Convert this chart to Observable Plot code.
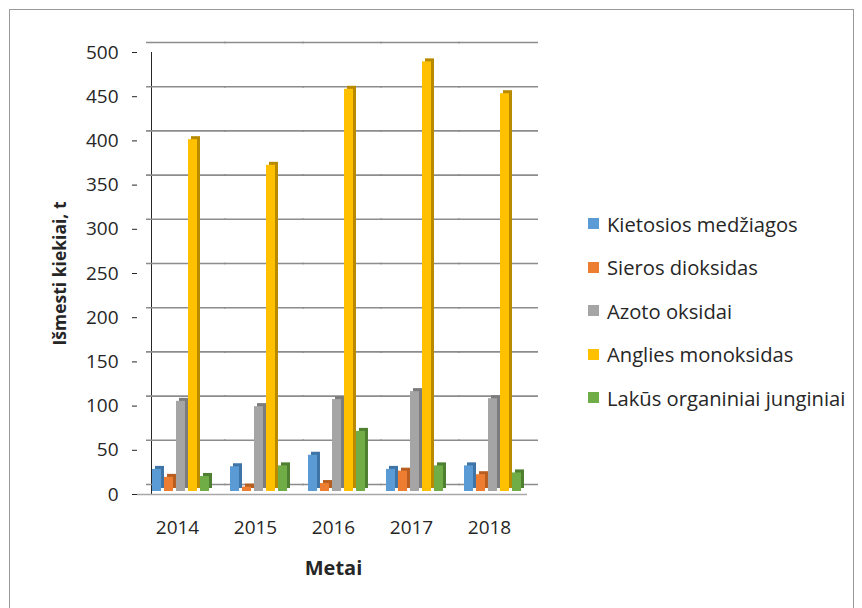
<!DOCTYPE html>
<html>
<head>
<meta charset="utf-8">
<script src="https://cdn.jsdelivr.net/npm/d3@7"></script>
<script src="https://cdn.jsdelivr.net/npm/@observablehq/plot@0.6"></script>
<style>
  html, body { margin: 0; padding: 0; background: #fff; }
  #wrap { position: relative; width: 862px; height: 608px; overflow: hidden; font-family: "Open Sans", Lato, sans-serif; }
  #border { position: absolute; left: 9px; top: 9px; width: 845px; height: 640px; border: 1px solid #9a9a9a; box-sizing: border-box; }
  #chart { position: absolute; left: 0; top: 0; }
  #legend { position: absolute; left: 588px; top: 202px; }
  .item { height: 43.5px; display: flex; align-items: center; font-size: 20.2px; color: #262626; white-space: nowrap; }
  .sw { width: 11px; height: 11px; margin-right: 8px; flex: none; }
  g[aria-label^="y-axis tick"]:not([aria-label$="label"]), g[aria-label^="y-axis line"] { stroke: #8c8c8c; }
  g[aria-label="y-axis label"] { font-weight: bold; font-size: 17.5px; }
  g[aria-label="fx-axis label"] { font-weight: bold; font-size: 20px; }
</style>
</head>
<body>
<div id="wrap">
  <div id="border"></div>
  <div id="chart"></div>
  <div id="legend"></div>
</div>
<script>
const years = ["2014", "2015", "2016", "2017", "2018"];
const seriesNames = ["Kietosios medžiagos", "Sieros dioksidas", "Azoto oksidai", "Anglies monoksidas", "Lakūs organiniai junginiai"];
const colors = ["#5B9BD5", "#ED7D31", "#A5A5A5", "#FFC000", "#70AD47"];
const darkColors = ["#3E75A6", "#B85E20", "#7C7C7C", "#B88A00", "#4F7F30"];
const kietosios = [25, 28, 41, 25, 29];
const sieros = [16, 5, 9, 23, 19];
const azoto = [102, 96, 104, 113, 105];
const anglies = [398, 369, 455, 486, 450];
const lakus = [17, 29, 68, 29, 21];
const yTicks = [0, 50, 100, 150, 200, 250, 300, 350, 400, 450, 500];

const seriesValues = [kietosios, sieros, azoto, anglies, lakus];
const data = years.flatMap((yr, i) => seriesNames.map((s, j) => ({year: yr, series: s, value: seriesValues[j][i]})));

const chart = Plot.plot({
  width: 862,
  height: 608,
  marginLeft: 136,
  marginRight: 321,
  marginTop: 52,
  marginBottom: 114,
  style: {fontFamily: "'Open Sans', Lato, sans-serif", fontSize: "19px", color: "#262626", background: "transparent"},
  fx: {domain: years, paddingInner: 0.2, paddingOuter: 0.18, label: "Metai", labelAnchor: "center", labelOffset: 80, tickSize: 0, tickPadding: 26, labelArrow: "none", fontSize: 20},
  x: {domain: seriesNames, axis: null, padding: 0},
  y: {domain: [0, 500], ticks: yTicks, tickSize: 5, tickPadding: 14, line: true, label: "Išmesti kiekiai, t", labelAnchor: "center", labelOffset: 84, labelArrow: "none"},
  color: {domain: seriesNames, range: colors},
  marks: [
    Plot.ruleY(yTicks, {dx: 9, dy: -10, stroke: "#8c8c8c", strokeWidth: 1.6, insetLeft: -14, insetRight: -4}),
    Plot.ruleY([0], {stroke: "#a8a8a8", strokeWidth: 1.5, insetLeft: -14, insetRight: -2}),
    Plot.barY(data, {fx: "year", x: "series", y: "value", fill: d => darkColors[seriesNames.indexOf(d.series)], insetRight: 3, dx: 3, dy: -6}),
    Plot.barY(data, {fx: "year", x: "series", y: "value", fill: "series", insetRight: 3, dy: -3})
  ]
});
document.getElementById("chart").appendChild(chart);

// Nudge axis groups (wrapping them keeps Plot's own transforms intact):
// the y axis sits at the first facet's edge -> move to the chart's front edge;
// fx labels sit a little left of each group's centre in the 3D reference.
function nudge(selector, dx) {
  chart.querySelectorAll(selector).forEach(g => {
    const w = document.createElementNS("http://www.w3.org/2000/svg", "g");
    w.setAttribute("transform", `translate(${dx},0)`);
    g.parentNode.insertBefore(w, g);
    w.appendChild(g);
  });
}
nudge('g[aria-label^="y-axis"]', -14);
nudge('g[aria-label^="fx-axis"]', -5);

const legend = document.getElementById("legend");
seriesNames.forEach((s, i) => {
  const it = document.createElement("div");
  it.className = "item";
  it.innerHTML = `<span class="sw" style="background:${colors[i]}"></span><span>${s}</span>`;
  legend.appendChild(it);
});
</script>
</body>
</html>
